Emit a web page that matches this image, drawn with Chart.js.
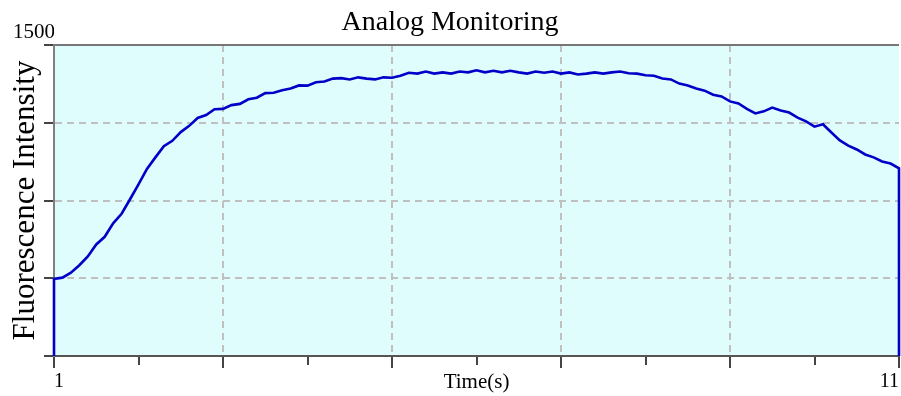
<!DOCTYPE html>
<html>
<head>
<meta charset="utf-8">
<script src="https://cdn.jsdelivr.net/npm/chart.js@4"></script>
<style>
  body { margin: 0; background: #fff; }
</style>
</head>
<body>
<canvas id="myChart" width="901" height="396"></canvas>
<script>
const times = [1, 1, 1.1, 1.2, 1.3, 1.4, 1.5, 1.6, 1.7, 1.8, 1.9,
  2, 2.1, 2.2, 2.3, 2.4, 2.5, 2.6, 2.7, 2.8, 2.9,
  3, 3.1, 3.2, 3.3, 3.4, 3.5, 3.6, 3.7, 3.8, 3.9,
  4, 4.1, 4.2, 4.3, 4.4, 4.5, 4.6, 4.7, 4.8, 4.9,
  5, 5.1, 5.2, 5.3, 5.4, 5.5, 5.6, 5.7, 5.8, 5.9,
  6, 6.1, 6.2, 6.3, 6.4, 6.5, 6.6, 6.7, 6.8, 6.9,
  7, 7.1, 7.2, 7.3, 7.4, 7.5, 7.6, 7.7, 7.8, 7.9,
  8, 8.1, 8.2, 8.3, 8.4, 8.5, 8.6, 8.7, 8.8, 8.9,
  9, 9.1, 9.2, 9.3, 9.4, 9.5, 9.6, 9.7, 9.8, 9.9,
  10, 10.1, 10.2, 10.3, 10.4, 10.5, 10.6, 10.7, 10.8, 10.9,
  11, 11];

const intensity = [0, 372, 378, 402, 438, 480, 538, 575, 640, 686, 756,
  828, 902, 958, 1012, 1038, 1080, 1110, 1148, 1162, 1190,
  1192, 1210, 1216, 1238, 1246, 1268, 1270, 1282, 1290, 1305,
  1304, 1320, 1324, 1338, 1340, 1334, 1344, 1338, 1334, 1344,
  1342, 1352, 1366, 1362, 1372, 1362, 1368, 1362, 1372, 1368,
  1378, 1368, 1376, 1368, 1376, 1368, 1362, 1372, 1366, 1372,
  1362, 1368, 1358, 1362, 1368, 1362, 1368, 1372, 1364, 1362,
  1354, 1352, 1338, 1334, 1314, 1305, 1290, 1280, 1260, 1252,
  1228, 1218, 1192, 1170, 1180, 1198, 1184, 1174, 1150, 1132,
  1106, 1118, 1078, 1040, 1015, 996, 972, 958, 938, 928,
  905, 0];

const xLabels = {1: '1', 11: '11'};
const yLabels = {1500: '1500'};

const serif = "'Liberation Serif', 'Times New Roman', serif";

const plotBg = {
  id: 'plotBg',
  beforeDraw(chart) {
    const {ctx, chartArea: a} = chart;
    ctx.save();
    ctx.fillStyle = '#e0fdfd';
    ctx.fillRect(a.left, a.top, a.right - a.left, a.bottom - a.top);
    ctx.restore();
  },
  beforeDatasetsDraw(chart) {
    const {ctx, chartArea: a} = chart;
    ctx.save();
    ctx.strokeStyle = '#777';
    ctx.lineWidth = 2;
    ctx.beginPath();
    ctx.moveTo(a.left, a.top);
    ctx.lineTo(a.right, a.top);
    ctx.stroke();
    ctx.restore();
  }
};

const ctx = document.getElementById('myChart').getContext('2d');

const chart = new Chart(ctx, {
  type: 'line',
  data: {
    datasets: [{
      data: times.map((t, i) => ({x: t, y: intensity[i]})),
      borderColor: '#0000c8',
      borderWidth: 2.6,
      pointRadius: 0,
      tension: 0,
      clip: false
    }]
  },
  options: {
    responsive: false,
    animation: false,
    layout: { padding: { right: 1 } },
    plugins: {
      legend: { display: false },
      tooltip: { enabled: false },
      title: {
        display: true,
        text: 'Analog Monitoring',
        color: '#000',
        font: { family: serif, size: 28, weight: 'normal' },
        padding: { top: 6, bottom: 5.4 }
      }
    },
    scales: {
      x: {
        type: 'linear',
        min: 1,
        max: 11,
        afterFit: (scale) => { scale.height = 40; },
        ticks: {
          stepSize: 1,
          autoSkip: false,
          maxRotation: 0,
          align: 'inner',
          padding: 2,
          color: '#000',
          font: { family: serif, size: 20 },
          callback: (v) => xLabels[v] || ''
        },
        grid: {
          color: (c) => (c.tick && c.tick.value % 2 === 1 && c.tick.value > 1 && c.tick.value < 11) ? '#c0c0c0' : 'rgba(0,0,0,0)',
          lineWidth: 2,
          tickColor: '#444',
          tickWidth: 2,
          tickLength: 12,
          tickBorderDash: (c) => (c.tick && c.tick.value % 2 === 0) ? [8, 30] : []
        },
        border: { color: '#555', width: 2, dash: [7, 5] },
        title: {
          display: true,
          text: 'Time(s)',
          color: '#000',
          font: { family: serif, size: 21 },
          padding: { top: 0, bottom: 1 }
        }
      },
      y: {
        min: 0,
        max: 1500,
        afterFit: (scale) => { scale.width = 54; },
        ticks: {
          stepSize: 375,
          padding: -11,
          color: '#000',
          font: { family: serif, size: 21 },
          callback: (v) => yLabels[v] ? [yLabels[v], ''] : ''
        },
        grid: {
          color: (c) => (c.tick && c.tick.value > 0 && c.tick.value < 1500) ? '#c0c0c0' : 'rgba(0,0,0,0)',
          lineWidth: 2,
          tickColor: '#444',
          tickWidth: 2,
          tickLength: 10
        },
        border: { color: '#808080', width: 2, dash: [7, 5] },
        title: {
          display: true,
          text: 'Fluorescence Intensity',
          color: '#000',
          font: { family: serif, size: 31 },
          padding: { top: 7, bottom: 0 }
        }
      }
    }
  },
  plugins: [plotBg]
});
</script>
</body>
</html>
